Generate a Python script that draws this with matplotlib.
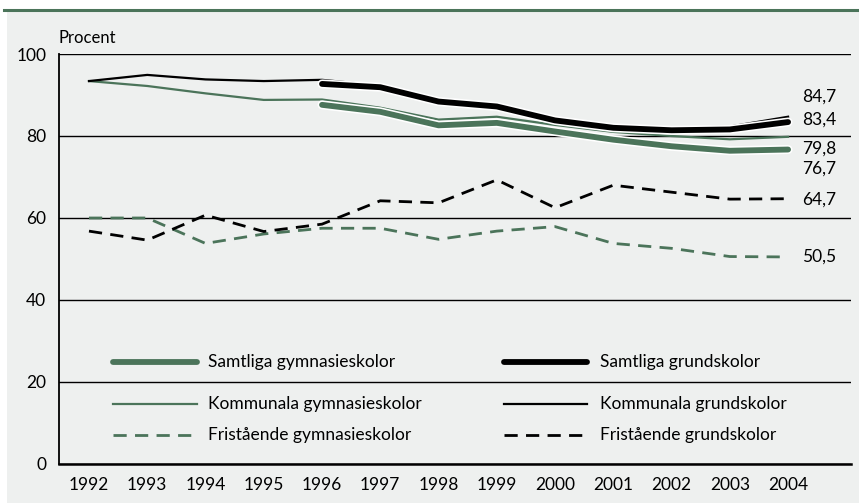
import numpy as np
import matplotlib
matplotlib.use("Agg")
import matplotlib.pyplot as plt
import matplotlib.patheffects as pe

# ---------- Data ----------
years = list(range(1992, 2005))
nan = np.nan

samtliga_gym = [nan, nan, nan, nan, 87.6, 85.9, 82.6, 83.2, 81.1, 79.1, 77.5, 76.4, 76.7]
kommunala_gym = [93.4, 92.2, 90.4, 88.8, 88.9, 86.9, 84.0, 84.7, 82.7, 81.0, 80.0, 79.2, 79.8]
fristaende_gym = [60.0, 60.0, 53.8, 56.1, 57.5, 57.5, 54.8, 56.8, 57.9, 53.8, 52.6, 50.6, 50.5]

samtliga_grund = [nan, nan, nan, nan, 92.7, 91.9, 88.4, 87.2, 83.8, 82.0, 81.4, 81.6, 83.4]
kommunala_grund = [93.4, 94.9, 93.8, 93.4, 93.7, 92.3, 88.8, 87.6, 84.2, 82.2, 81.9, 82.3, 84.7]
fristaende_grund = [56.8, 54.6, 60.7, 56.7, 58.5, 64.2, 63.7, 69.3, 62.5, 68.0, 66.3, 64.6, 64.7]

labels = ["Samtliga gymnasieskolor", "Kommunala gymnasieskolor", "Fristående gymnasieskolor",
          "Samtliga grundskolor", "Kommunala grundskolor", "Fristående grundskolor"]

# ---------- Style ----------
green = "#4b745a"
bg = "#eef0ef"
plt.rcParams["font.family"] = ["Lato", "DejaVu Sans"]
plt.rcParams["lines.scale_dashes"] = False
dash = (9.5, 6.0)

fig = plt.figure(figsize=(8.59, 5.03), dpi=100)
fig.patch.set_facecolor("white")
# grey panel + green rule on top
fig.patches.append(plt.Rectangle((7 / 859, 0), 1, 1 - 11 / 503, transform=fig.transFigure,
                                 facecolor=bg, edgecolor="none", zorder=-10))
fig.lines.append(plt.Line2D([4 / 859, 1], [1 - 10 / 503, 1 - 10 / 503], transform=fig.transFigure,
                            color=green, linewidth=2.2, zorder=-5))

ax = fig.add_axes([58.7 / 859, 39 / 503, (851 - 58.7) / 859, (464 - 54) / 503])
ax.set_zorder(1)
ax.set_facecolor(bg)
ax.set_xlim(1991.48, 2005.08)
ax.set_ylim(0, 100)

# ---------- Series ----------
white_edge = [pe.Stroke(linewidth=6.5, foreground="white"), pe.Normal()]
ax.plot(years, kommunala_gym, color=green, linewidth=1.6, zorder=3)
ax.plot(years, fristaende_gym, color=green, linewidth=2.0, dashes=dash, zorder=3)
ax.plot(years, kommunala_grund, color="black", linewidth=1.6, zorder=4)
ax.plot(years, fristaende_grund, color="black", linewidth=2.0, dashes=dash, zorder=4)
ax.plot(years, samtliga_gym, color=green, linewidth=4.2, solid_capstyle="round",
        path_effects=white_edge, zorder=5)
ax.plot(years, samtliga_grund, color="black", linewidth=4.2, solid_capstyle="round",
        path_effects=white_edge, zorder=6)

# ---------- End labels ----------
end_values = [kommunala_grund[-1], samtliga_grund[-1], kommunala_gym[-1],
              samtliga_gym[-1], fristaende_grund[-1], fristaende_gym[-1]]
label_y = [89.6, 84.0, 77.0, 72.1, 64.4, 50.6]
for v, yy in zip(end_values, label_y):
    ax.text(2004.24, yy, f"{v:.1f}".replace(".", ","), fontsize=12.5, va="center", ha="left")

# ---------- Legend (drawn by hand) ----------
legend_rows = [24.95, 14.6, 7.1]
styles = [dict(linewidth=4.2, solid_capstyle="round"), dict(linewidth=1.6),
          dict(linewidth=2.0, dashes=dash)]
for col, (x0, x1, xt, color) in enumerate([(1992.41, 1993.85, 1994.04, green),
                                           (1999.12, 2000.55, 2000.77, "black")]):
    for row, yy in enumerate(legend_rows):
        ax.plot([x0, x1], [yy, yy], color=color, **styles[row], zorder=5)
        ax.text(xt, yy, labels[col * 3 + row], fontsize=12.5, va="center", ha="left")

# ---------- Axes ----------
ax.set_yticks([0, 20, 40, 60, 80, 100])
ax.set_xticks(years)
ax.tick_params(axis="both", length=0, labelsize=12.5)
ax.tick_params(axis="y", pad=9)
ax.tick_params(axis="x", pad=9)
ax.grid(axis="y", color="black", linewidth=1.0)
ax.set_axisbelow(True)
for s in ["top", "right"]:
    ax.spines[s].set_visible(False)
ax.spines["left"].set_linewidth(1.3)
ax.spines["bottom"].set_linewidth(1.8)
ax.text(0.0, 1.02, "Procent", transform=ax.transAxes, fontsize=12, ha="left", va="bottom")

fig.savefig("out.png", dpi=100, facecolor=fig.get_facecolor())
